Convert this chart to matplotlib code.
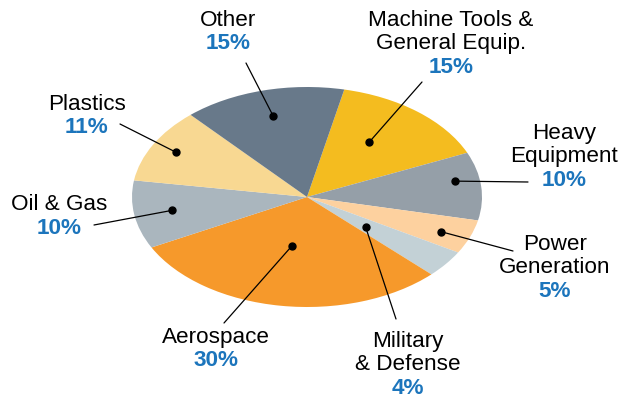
import matplotlib.pyplot as plt
import numpy as np

plt.rcParams['font.family'] = ['Liberation Sans', 'DejaVu Sans']

# Market share by end-use sector
sectors = ['Machine Tools &\nGeneral Equip.', 'Heavy\nEquipment', 'Power\nGeneration',
           'Military\n& Defense', 'Aerospace', 'Oil & Gas', 'Plastics', 'Other']
shares = [15, 10, 5, 4, 30, 10, 11, 15]
colors = ['#F4BC1F', '#959FA8', '#FDD19F', '#C3D1D6',
          '#F6992B', '#AAB6BE', '#F8D892', '#68798A']

# leader lines: start point inside the wedge (fraction of its sweep, fraction of radius)
dot_frac = [0.43, 0.39, 0.56, 0.60, 0.52, 0.51, 0.50, 0.50]
dot_r = [0.61, 0.86, 0.83, 0.43, 0.45, 0.78, 0.85, 0.76]
# end point of each leader line, pixels from top-left
line_end = [(422, 82), (528, 182), (513, 251), (396, 319),
            (224, 323), (94, 225), (120, 124), (246, 63)]
# centre of the first label line, pixels from top-left
label_xy = [(451, 20), (564, 133), (555, 244), (408, 341),
            (216, 337), (59, 205), (87, 104), (228, 20)]

W, H = 620, 398
cx, cy, rx, ry = 307, 197, 175, 110
line_h = 23.7
blue = '#1C75BC'
fs = 16.2

fig = plt.figure(figsize=(W / 100, H / 100), dpi=100)

# the pie is squashed into an ellipse by giving its axes a wide box
pie_ax = fig.add_axes([(cx - rx) / W, (H - cy - ry) / H, 2 * rx / W, 2 * ry / H])
wedges, _ = pie_ax.pie(shares, colors=colors, startangle=77.7, counterclock=False,
                       radius=1, wedgeprops=dict(linewidth=0))
pie_ax.set_aspect('auto')
pie_ax.set_xlim(-1, 1)
pie_ax.set_ylim(-1, 1)
pie_ax.axis('off')

# overlay in pixel units for the labels
over = fig.add_axes([0, 0, 1, 1], facecolor='none')
over.set_xlim(0, W)
over.set_ylim(H, 0)
over.axis('off')

for w, f, r, end, (lx, ly), name, pct in zip(wedges, dot_frac, dot_r, line_end,
                                             label_xy, sectors, shares):
    # counterclock=False: theta2 is where the wedge starts, sweeping down to theta1
    ang = np.deg2rad(w.theta2 - f * (w.theta2 - w.theta1))
    u, v = r * np.cos(ang), r * np.sin(ang)
    pie_ax.annotate('', xy=(u, v), xycoords='data', xytext=end, textcoords=over.transData,
                    arrowprops=dict(arrowstyle='-', lw=0.9, color='black',
                                    shrinkA=0, shrinkB=0), annotation_clip=False)
    pie_ax.plot(u, v, 'o', color='black', ms=5, clip_on=False, zorder=5)

    lines = name.split('\n')
    for i, txt in enumerate(lines):
        over.text(lx, ly + i * line_h, txt, ha='center', va='center',
                  fontsize=fs, color='black')
    over.text(lx, ly + len(lines) * line_h, f'{pct}%', ha='center', va='center',
              fontsize=fs, color=blue, fontweight='bold')

fig.savefig('out.png', dpi=100)
